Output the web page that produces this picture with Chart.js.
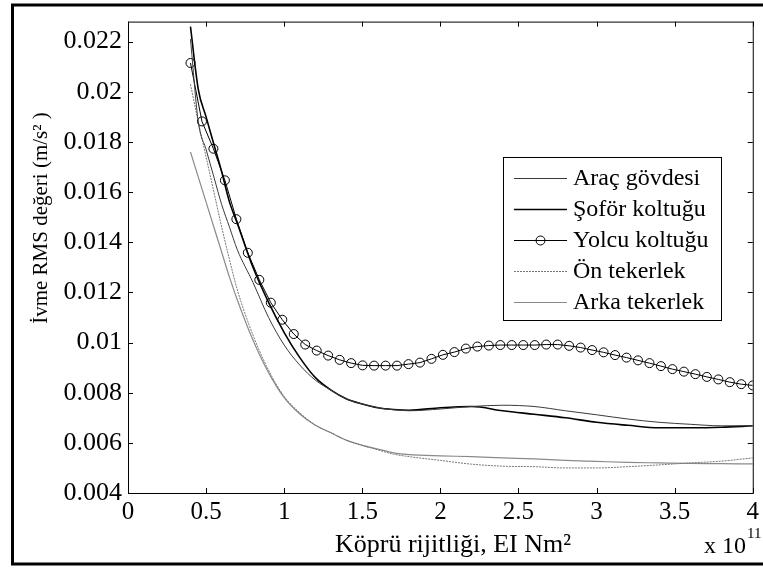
<!DOCTYPE html>
<html>
<head>
<meta charset="utf-8">
<script src="https://cdn.jsdelivr.net/npm/chart.js@4.4.1/dist/chart.umd.min.js"></script>
<style>
html, body { margin: 0; padding: 0; background: #fff; }
#wrap { position: relative; width: 763px; height: 570px; }
</style>
</head>
<body>
<div id="wrap"><canvas id="chart"></canvas></div>
<script>
// x values in units of 1e11 Nm^2
const xYolcu = [0.4, 0.4735, 0.5469, 0.6204, 0.6939, 0.7673, 0.8408, 0.9143, 0.9878, 1.0612,
    1.1347, 1.2082, 1.2816, 1.3551, 1.4286, 1.502, 1.5755, 1.649, 1.7224, 1.7959,
    1.8694, 1.9429, 2.0163, 2.0898, 2.1633, 2.2367, 2.3102, 2.3837, 2.4571, 2.5306,
    2.6041, 2.6776, 2.751, 2.8245, 2.898, 2.9714, 3.0449, 3.1184, 3.1918, 3.2653,
    3.3388, 3.4122, 3.4857, 3.5592, 3.6327, 3.7061, 3.7796, 3.8531, 3.9265, 4.0];
const yolcuKoltugu = [0.02115, 0.01882, 0.01773, 0.01647, 0.01492, 0.01358, 0.0125, 0.01159, 0.01091, 0.01034,
    0.00992, 0.00968, 0.00948, 0.00931, 0.00918, 0.00909, 0.00908, 0.00908, 0.00908, 0.00914,
    0.0092, 0.00935, 0.00951, 0.00962, 0.00976, 0.00984, 0.00988, 0.0099, 0.0099, 0.0099,
    0.0099, 0.00992, 0.00992, 0.00987, 0.0098, 0.0097, 0.00961, 0.0095, 0.0094, 0.00929,
    0.00918, 0.00906, 0.00894, 0.00884, 0.00874, 0.00863, 0.00853, 0.00842, 0.00834, 0.00829];

const xLine = [0.4, 0.45, 0.5, 0.55, 0.6, 0.65, 0.7, 0.8, 0.9, 1.0, 1.1, 1.2, 1.3, 1.4, 1.5,
    1.6, 1.7, 1.8, 2.0, 2.2, 2.4, 2.6, 2.8, 3.0, 3.2, 3.4, 3.6, 3.8, 4.0];
const aracGovdesi = [0.0221, 0.0188, 0.0177, 0.0166, 0.0155, 0.0146, 0.0137, 0.0124, 0.011, 0.0099, 0.0091, 0.0085, 0.0081, 0.00775, 0.00755,
    0.0074, 0.00732, 0.00728, 0.00735, 0.00745, 0.0075, 0.00745, 0.00728, 0.00712, 0.00695, 0.00682, 0.00674, 0.00668, 0.00668];
const soforKoltugu = [0.0226, 0.0201, 0.019, 0.0179, 0.0168, 0.0156, 0.01475, 0.013, 0.0116, 0.0104, 0.0094, 0.0086, 0.0081, 0.00775, 0.00755,
    0.0074, 0.00733, 0.0073, 0.0074, 0.00745, 0.00728, 0.00714, 0.007, 0.00682, 0.0067, 0.0066, 0.0066, 0.00662, 0.00668];
const onTekerlek = [0.0203, 0.0188, 0.0174, 0.016, 0.0146, 0.0133, 0.0121, 0.0103, 0.0089, 0.00785, 0.0072, 0.0067, 0.0064, 0.0061, 0.0059,
    0.00572, 0.00555, 0.00545, 0.0053, 0.00515, 0.00507, 0.00505, 0.005, 0.005, 0.00505, 0.00512, 0.0052, 0.00527, 0.0054];
const arkaTekerlek = [0.0176, 0.0166, 0.0156, 0.0146, 0.0136, 0.0126, 0.0117, 0.0101, 0.0088, 0.0078, 0.00715, 0.0067, 0.0064, 0.0061, 0.0059,
    0.00575, 0.0056, 0.00553, 0.00548, 0.00545, 0.0054, 0.00536, 0.0053, 0.00526, 0.00522, 0.0052, 0.00518, 0.00517, 0.00516];

const seriesNames = ['Araç gövdesi', 'Şoför koltuğu', 'Yolcu koltuğu', 'Ön tekerlek', 'Arka tekerlek'];
const xTicks = [0, 0.5, 1, 1.5, 2, 2.5, 3, 3.5, 4];
const yTicks = [0.004, 0.006, 0.008, 0.01, 0.012, 0.014, 0.016, 0.018, 0.02, 0.022];

const FONT = '"Liberation Serif", "Times New Roman", serif';
const pts = (xs, ys) => xs.map((x, i) => ({x: x, y: ys[i]}));

const decor = {
    id: 'decor',
    afterDraw(chart) {
        const {ctx, chartArea: a, scales: {x, y}} = chart;
        ctx.save();
        ctx.strokeStyle = '#000';
        // figure frame
        ctx.lineWidth = 3;
        ctx.strokeRect(12.5, 5, 800, 559);
        // axes box
        ctx.lineWidth = 1;
        ctx.strokeRect(a.left + 0.5, a.top + 0.5, a.right - a.left, a.bottom - a.top);
        // inward ticks on all sides
        ctx.beginPath();
        xTicks.forEach(v => {
            const px = Math.round(x.getPixelForValue(v)) + 0.5;
            ctx.moveTo(px, a.bottom); ctx.lineTo(px, a.bottom - 5);
            ctx.moveTo(px, a.top); ctx.lineTo(px, a.top + 5);
        });
        yTicks.forEach(v => {
            const py = Math.round(y.getPixelForValue(v)) + 0.5;
            ctx.moveTo(a.left, py); ctx.lineTo(a.left + 5, py);
            ctx.moveTo(a.right, py); ctx.lineTo(a.right - 5, py);
        });
        ctx.stroke();

        // axis titles
        ctx.fillStyle = '#000';
        ctx.font = '26px ' + FONT;
        ctx.textBaseline = 'alphabetic';
        ctx.textAlign = 'center';
        ctx.fillText('Köprü rijitliği, EI Nm²', 453, 552);
        ctx.textAlign = 'left';
        ctx.font = '24px ' + FONT;
        ctx.fillText('x 10', 704, 553);
        ctx.font = '15px ' + FONT;
        ctx.fillText('11', 747, 538);

        ctx.save();
        ctx.translate(47, 218);
        ctx.rotate(-Math.PI / 2);
        ctx.textAlign = 'center';
        ctx.font = '21px ' + FONT;
        ctx.fillText('İvme RMS değeri (m/s² )', 0, 0);
        ctx.restore();

        // legend
        const box = {l: 503.5, t: 157.5, r: 721.5, b: 320.5};
        ctx.fillStyle = '#fff';
        ctx.fillRect(box.l, box.t, box.r - box.l, box.b - box.t);
        ctx.lineWidth = 1;
        ctx.strokeStyle = '#000';
        ctx.strokeRect(box.l, box.t, box.r - box.l, box.b - box.t);
        const rows = [178, 209, 240, 271, 302];
        chart.data.datasets.forEach((ds, i) => {
            const ry = rows[i] + 0.5;
            ctx.save();
            ctx.strokeStyle = ds.borderColor;
            ctx.lineWidth = ds.borderWidth;
            ctx.setLineDash(ds.borderDash || []);
            ctx.beginPath();
            ctx.moveTo(514, ry); ctx.lineTo(567, ry);
            ctx.stroke();
            ctx.setLineDash([]);
            if (ds.pointRadius > 0) {
                ctx.lineWidth = 1;
                ctx.beginPath();
                ctx.arc(540.5, ry, ds.pointRadius, 0, Math.PI * 2);
                ctx.stroke();
            }
            ctx.restore();
            ctx.fillStyle = '#000';
            ctx.font = '24px ' + FONT;
            ctx.textAlign = 'left';
            ctx.textBaseline = 'middle';
            ctx.fillText(ds.label, 573, rows[i] + 1);
        });
        ctx.restore();
    }
};

new Chart(document.getElementById('chart'), {
    type: 'line',
    data: {
        datasets: [
            {
                label: seriesNames[0],
                data: pts(xLine, aracGovdesi),
                borderColor: '#3a3a3a',
                borderWidth: 1,
                pointRadius: 0,
                cubicInterpolationMode: 'monotone',
            },
            {
                label: seriesNames[1],
                data: pts(xLine, soforKoltugu),
                borderColor: '#000',
                borderWidth: 1.6,
                pointRadius: 0,
                cubicInterpolationMode: 'monotone',
            },
            {
                label: seriesNames[2],
                data: pts(xYolcu, yolcuKoltugu),
                borderColor: '#000',
                borderWidth: 1,
                pointRadius: 4.5,
                pointStyle: 'circle',
                pointBackgroundColor: 'rgba(0,0,0,0)',
                pointBorderColor: '#000',
                pointBorderWidth: 1,
            },
            {
                label: seriesNames[3],
                data: pts(xLine, onTekerlek),
                borderColor: '#777',
                borderWidth: 1,
                borderDash: [2, 1],
                pointRadius: 0,
                cubicInterpolationMode: 'monotone',
            },
            {
                label: seriesNames[4],
                data: pts(xLine, arkaTekerlek),
                borderColor: '#8a8a8a',
                borderWidth: 1.2,
                pointRadius: 0,
                cubicInterpolationMode: 'monotone',
            },
        ],
    },
    options: {
        responsive: true,
        maintainAspectRatio: false,
        animation: false,
        layout: {padding: {left: 0, top: 17, right: 3, bottom: 0}},
        scales: {
            x: {
                type: 'linear',
                min: 0,
                max: 4,
                afterBuildTicks: s => { s.ticks = xTicks.map(v => ({value: v})); },
                afterFit: s => { s.height = 77; },
                grid: {display: false, drawTicks: false},
                border: {display: false},
                ticks: {
                    color: '#000',
                    padding: 4,
                    maxRotation: 0,
                    autoSkip: false,
                    font: {family: FONT, size: 25},
                    callback: v => String(v),
                },
            },
            y: {
                min: 0.004,
                max: 0.0228,
                afterBuildTicks: s => { s.ticks = yTicks.map(v => ({value: v})); },
                afterFit: s => { s.width = 128; },
                grid: {display: false, drawTicks: false},
                border: {display: false},
                ticks: {
                    color: '#000',
                    padding: 6,
                    autoSkip: false,
                    font: {family: FONT, size: 26},
                    callback: v => String(+v.toFixed(3)),
                },
            },
        },
        plugins: {
            legend: {display: false},
            tooltip: {enabled: false},
        },
    },
    plugins: [decor],
});
</script>
</body>
</html>
